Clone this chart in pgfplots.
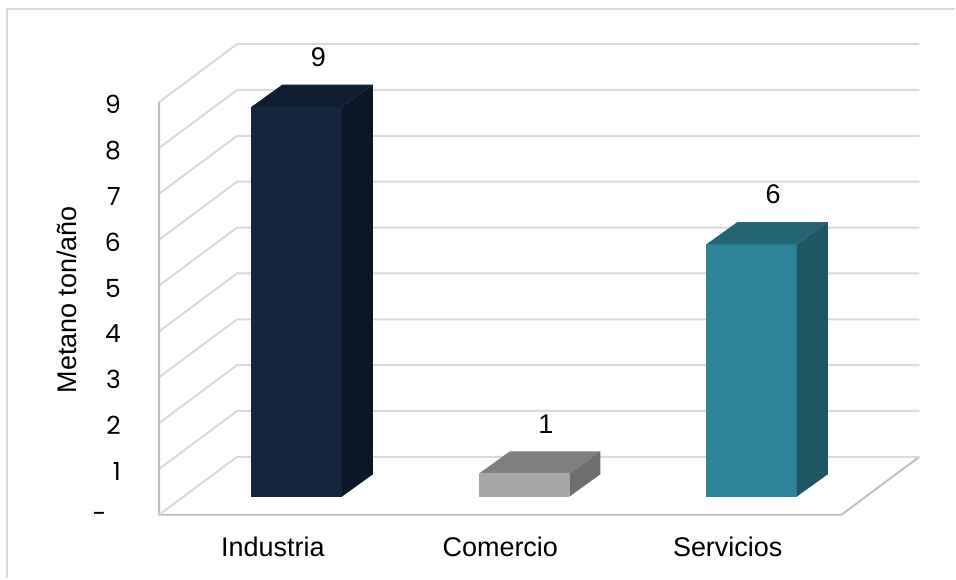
\documentclass[border=0pt]{standalone}
\usepackage{pgfplots}
\usepackage{pgfplotstable}
\pgfplotsset{compat=1.18}
\usepackage{fontspec}
\setmainfont{Liberation Sans}
\newfontfamily\tickfont{Poppins}

\definecolor{gridc}{HTML}{D9D9D9}
\definecolor{edgec}{HTML}{BFBFBF}
\definecolor{c0f}{HTML}{14253D}
\definecolor{c0t}{HTML}{0F1D31}
\definecolor{c0s}{HTML}{0B1628}
\definecolor{c1f}{HTML}{A6A6A6}
\definecolor{c1t}{HTML}{808080}
\definecolor{c1s}{HTML}{6E6E6E}
\definecolor{c2f}{HTML}{2E8398}
\definecolor{c2t}{HTML}{256573}
\definecolor{c2s}{HTML}{1F5565}

\pgfplotstableread{
idx label value shown
0 Industria 8.5 9
1 Comercio 0.5 1
2 Servicios 5.5 6
}\datatable

\tikzset{lab/.style={font=\fontsize{13.5}{16}\selectfont}}

\begin{document}
\begin{tikzpicture}
\begin{axis}[
  hide axis, scale only axis, width=478pt, height=289.5pt,
  xmin=-0.6997, xmax=3.4994, ymin=-1.3878, ymax=11.2266,
  clip=false,
]
\path (rel axis cs:0,0) rectangle (rel axis cs:1,1);
% chart border
\draw[gridc, line width=1pt] (axis cs:-0.669,-1.3878) -- (axis cs:-0.669,11.03) -- (axis cs:3.4994,11.03);
% gridlines on side and back wall
\pgfplotsinvokeforeach{1,...,9}{
  \draw[gridc, line width=1pt] (axis cs:0,#1) -- ++(axis direction cs:0.3426,1.2636) -- ++(axis direction cs:3,0);
  \node[anchor=east, yshift=-1.25pt, font=\tickfont\fontsize{12.5}{16}\selectfont] at (axis cs:-0.1375,#1) {#1};
}
\node[anchor=east, yshift=-1.25pt, font=\tickfont\fontsize{12.5}{16}\selectfont] at (axis cs:-0.201,0) {-};
% floor and walls edges
\draw[edgec, line width=1pt] (axis cs:0,9) -- (axis cs:0,0) -- (axis cs:3,0) -- (axis cs:3.3426,1.2636);
\draw[gridc, line width=1pt] (axis cs:0,0) -- (axis cs:0.3426,1.2636) -- (axis cs:3.3426,1.2636);
% bars
\pgfplotsinvokeforeach{0,1,2}{
  \pgfplotstablegetelem{#1}{value}\of\datatable
  \pgfmathsetmacro\v{\pgfplotsretval}
  \pgfplotstablegetelem{#1}{shown}\of\datatable
  \edef\shown{\pgfplotsretval}
  \pgfmathsetmacro\xl{#1+0.5-0.199+0.105}
  \pgfmathsetmacro\xr{#1+0.5+0.199+0.105}
  \pgfmathsetmacro\xbl{#1+0.5-0.199+0.241}
  \pgfmathsetmacro\xbr{#1+0.5+0.199+0.241}
  \pgfmathsetmacro\yf{0.397}
  \pgfmathsetmacro\yb{0.882}
  \pgfmathsetmacro\ytf{\v+0.397}
  \pgfmathsetmacro\ytb{\v+0.882}
  \pgfmathsetmacro\xlab{#1+0.5+0.2}
  \pgfmathsetmacro\ylab{\v+0.882+0.6}
  \edef\cmd{%
    \noexpand\addplot[fill=c#1f, draw=none] coordinates {(\xl,\yf) (\xr,\yf) (\xr,\ytf) (\xl,\ytf)} -- cycle;
    \noexpand\addplot[fill=c#1t, draw=none] coordinates {(\xl,\ytf) (\xr,\ytf) (\xbr,\ytb) (\xbl,\ytb)} -- cycle;
    \noexpand\addplot[fill=c#1s, draw=none] coordinates {(\xr,\yf) (\xbr,\yb) (\xbr,\ytb) (\xr,\ytf)} -- cycle;
    \noexpand\node[lab] at (axis cs:\xlab,\ylab) {\shown};
  }
  \cmd
}
% category labels
\node[lab, anchor=base] at (axis cs:0.5,-0.902) {Industria};
\node[lab, anchor=base] at (axis cs:1.5,-0.902) {Comercio};
\node[lab, anchor=base] at (axis cs:2.5,-0.902) {Servicios};
% axis title
\node[lab, rotate=90] at (axis cs:-0.4054,4.69) {Metano ton/año};
\end{axis}
\end{tikzpicture}
\end{document}
